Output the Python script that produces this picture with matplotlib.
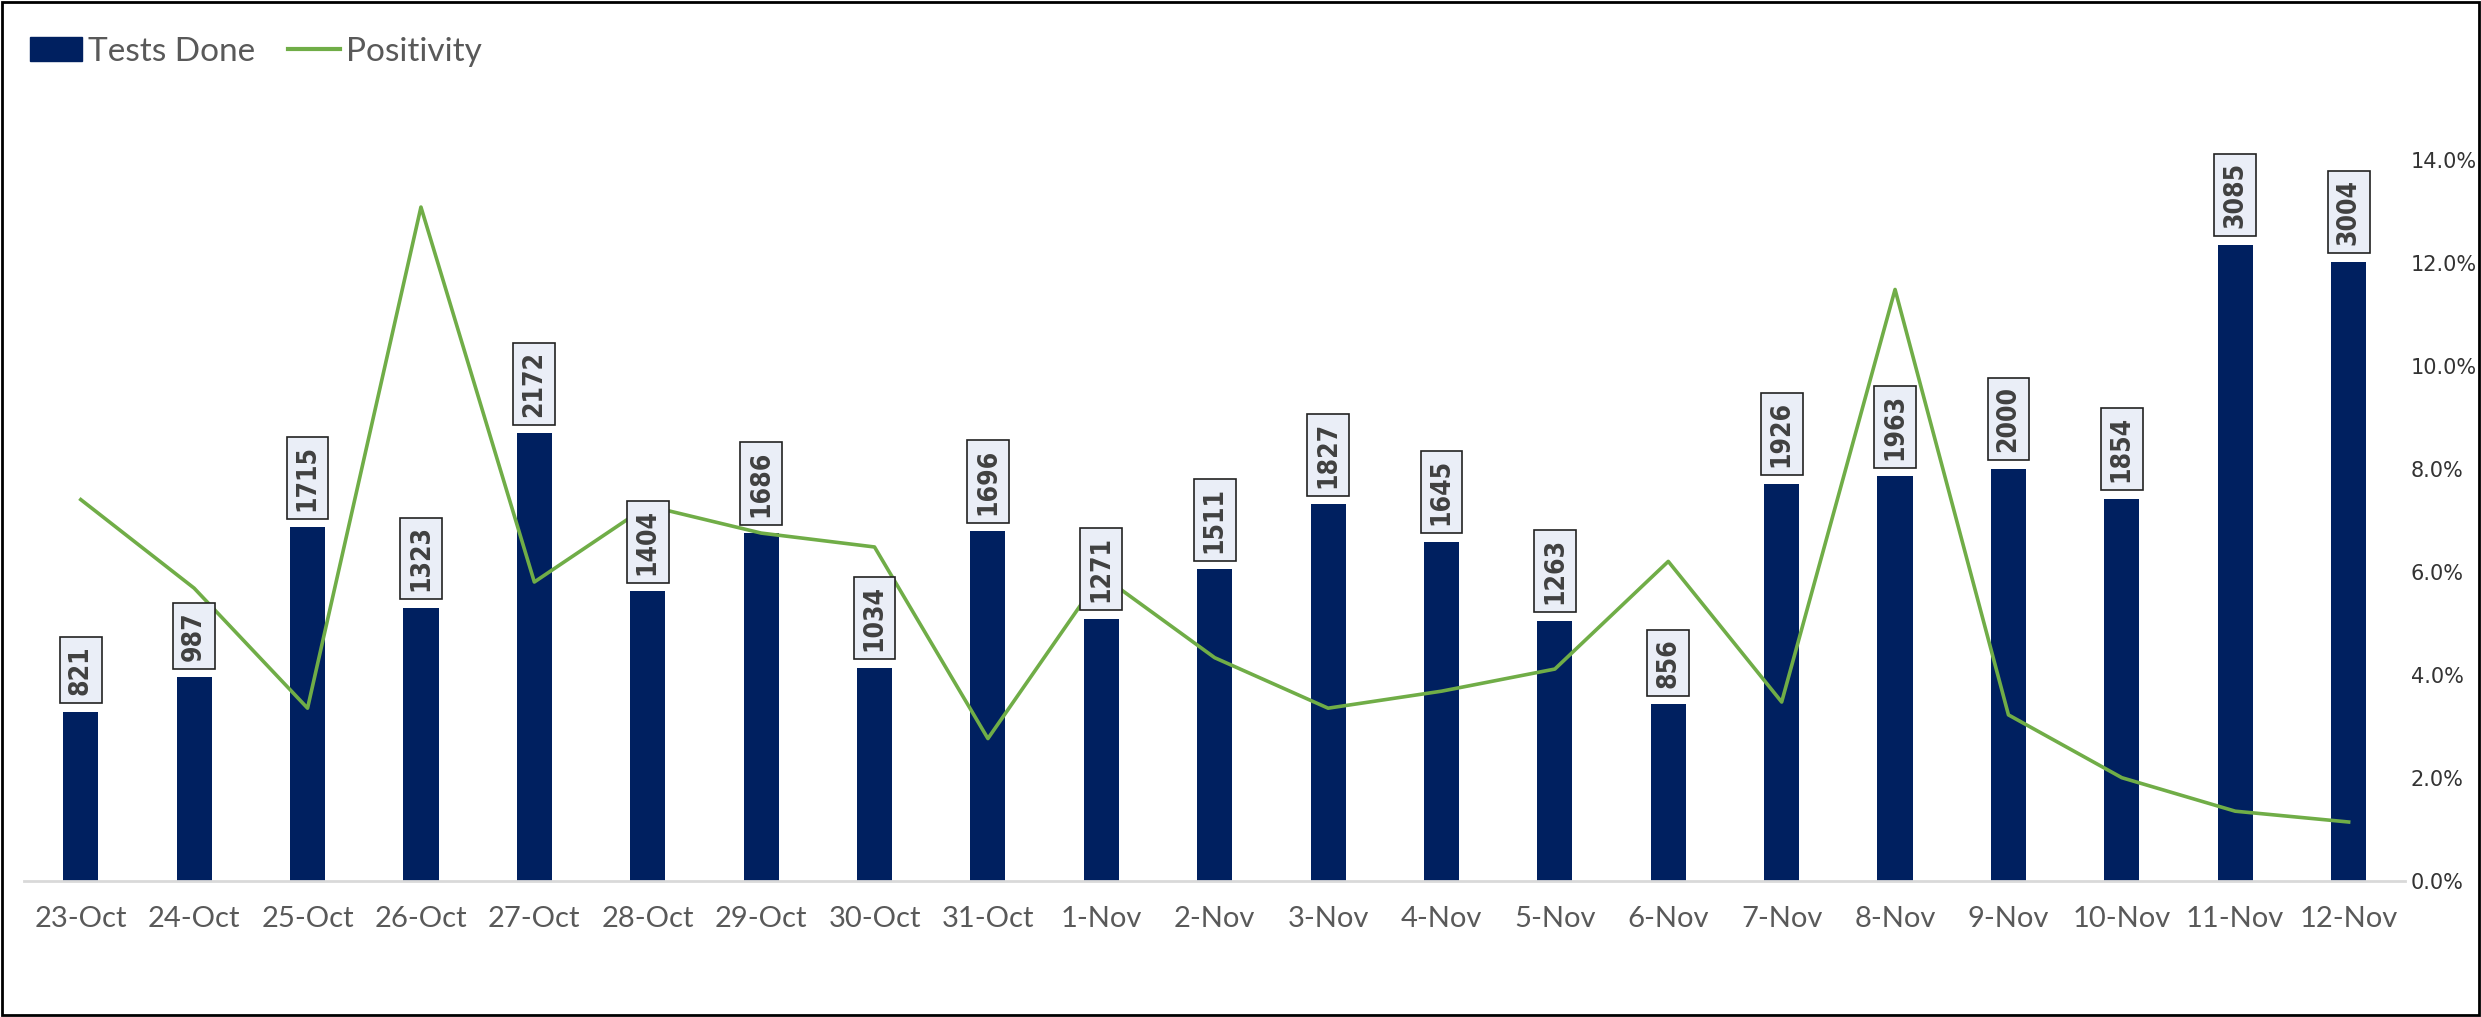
import matplotlib
matplotlib.use("Agg")
import matplotlib.pyplot as plt
from matplotlib.patches import Rectangle, Patch
from matplotlib.lines import Line2D
from matplotlib.ticker import PercentFormatter

dates = ["23-Oct", "24-Oct", "25-Oct", "26-Oct", "27-Oct", "28-Oct", "29-Oct",
         "30-Oct", "31-Oct", "1-Nov", "2-Nov", "3-Nov", "4-Nov", "5-Nov",
         "6-Nov", "7-Nov", "8-Nov", "9-Nov", "10-Nov", "11-Nov", "12-Nov"]
tests_done = [821, 987, 1715, 1323, 2172, 1404, 1686, 1034, 1696, 1271, 1511,
              1827, 1645, 1263, 856, 1926, 1963, 2000, 1854, 3085, 3004]
positivity = [7.40, 5.68, 3.35, 13.08, 5.80, 7.28, 6.75, 6.48, 2.76, 5.93, 4.33,
              3.35, 3.68, 4.11, 6.20, 3.47, 11.48, 3.22, 2.00, 1.35, 1.14]
pct_ticks = [0, 2, 4, 6, 8, 10, 12, 14]

BAR = "#002060"
LINE = "#70AD47"
TXT = "#595959"

fig = plt.figure(figsize=(24.81, 10.17), dpi=100)
ax = fig.add_axes([0.0097, 0.134, 0.9598, 0.709])
ax2 = ax.twinx()

x = list(range(len(dates)))
ax.bar(x, tests_done, width=0.31, color=BAR, zorder=2)
ax.set_xlim(-0.5, len(dates) - 0.5)
ax.set_ylim(0, 3500)
ax.set_xticks(x)
ax.set_xticklabels(dates, fontsize=21, color=TXT, family="Lato")
ax.tick_params(axis="x", length=0, pad=18)
ax.set_yticks([])
for s in ["top", "right", "left"]:
    ax.spines[s].set_visible(False)
ax.spines["bottom"].set_color("#D9D9D9")
ax.spines["bottom"].set_linewidth(2)

ax2.plot(x, positivity, color=LINE, lw=2.6, zorder=3)
ax2.set_ylim(0, 14)
ax2.set_yticks(pct_ticks)
ax2.yaxis.set_major_formatter(PercentFormatter(decimals=1))
ax2.tick_params(axis="y", length=0, pad=4, labelsize=15, labelcolor="#333333")
for s in ["top", "right", "left", "bottom"]:
    ax2.spines[s].set_visible(False)

for xi, v in zip(x, tests_done):
    ax2.annotate(str(v), xy=(xi, v), xycoords=ax.transData,
                 xytext=(0, 12), textcoords="offset points",
                 rotation=90, ha="center", va="bottom",
                 family="DejaVu Sans", fontstretch="condensed",
                 fontsize=19, fontweight="bold", color="#404040",
                 bbox=dict(boxstyle="square,pad=0.3", fc="#EAEEF7", ec="#222222", lw=1.2),
                 zorder=10)

handles = [Patch(facecolor=BAR, edgecolor=BAR),
           Line2D([0], [0], color=LINE, lw=3)]
fig.legend(handles, ["Tests Done", "Positivity"], loc="center left",
           bbox_to_anchor=(30 / 2481, 1 - 52 / 1017), ncol=2, frameon=False,
           prop={"family": "Lato", "size": 24}, labelcolor=TXT,
           borderpad=0, borderaxespad=0,
           handlelength=1.56, handleheight=0.72, handletextpad=0.17,
           columnspacing=1.0)

fig.patches.append(Rectangle((0.0008, 0.0015), 0.9984, 0.997, transform=fig.transFigure,
                             fill=False, ec="black", lw=2))

fig.savefig("out.png", dpi=100)
